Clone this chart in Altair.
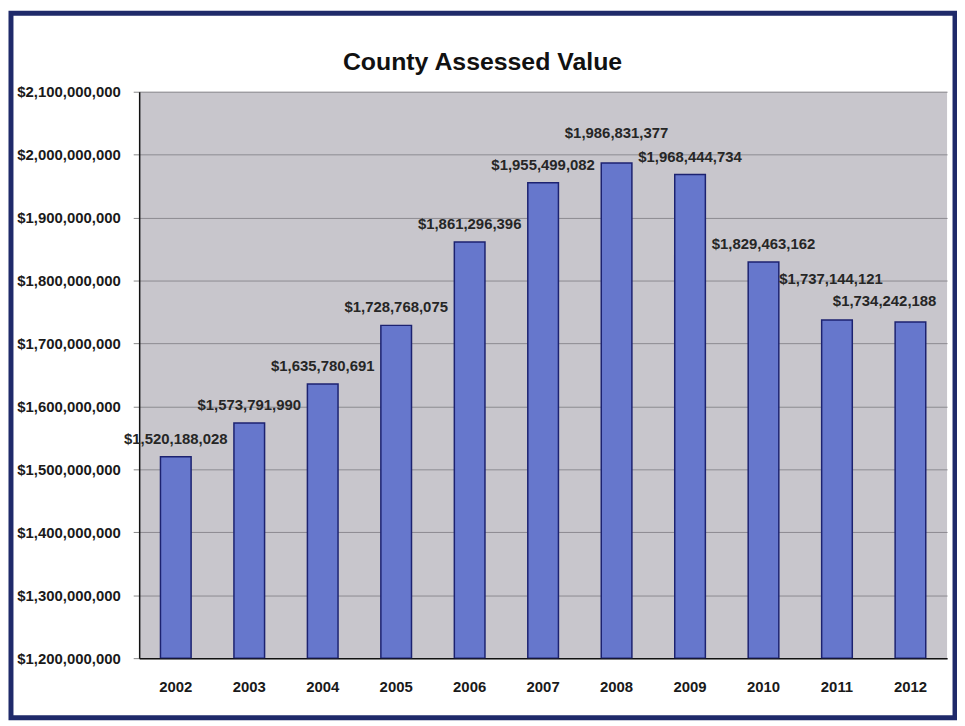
import altair as alt
import pandas as pd

years = ["2002", "2003", "2004", "2005", "2006", "2007", "2008", "2009", "2010", "2011", "2012"]
values = [1520188028, 1573791990, 1635780691, 1728768075, 1861296396, 1955499082,
          1986831377, 1968444734, 1829463162, 1737144121, 1734242188]
y_ticks = [1200000000, 1300000000, 1400000000, 1500000000, 1600000000, 1700000000,
           1800000000, 1900000000, 2000000000, 2100000000]
title_text = "County Assessed Value"

df = pd.DataFrame({"year": years, "value": values})

W, H = 813, 570
FONT = "Arial, Liberation Sans, Helvetica, sans-serif"

x_enc = alt.X("year:N", sort=years, title=None,
              scale=alt.Scale(paddingInner=0.583, paddingOuter=0.29),
              axis=alt.Axis(labelAngle=0, labelFont=FONT, labelFontSize=15, labelFontWeight="bold",
                            labelColor="#1a1a1a", ticks=False, labelPadding=22,
                            domainColor="#111111", domainWidth=1.5, grid=False))
y_enc = alt.Y("value:Q", title=None,
              scale=alt.Scale(domain=[1200000000, 2100000000], nice=False, zero=False),
              axis=alt.Axis(values=y_ticks, format="$,.0f", labelFont=FONT, labelFontSize=15,
                            labelFontWeight="bold", labelColor="#1a1a1a", tickSize=6,
                            tickColor="#888888", labelPadding=13, domainColor="#111111",
                            domainWidth=1.5, grid=True, gridColor="#8c8a90", gridWidth=1))

base = alt.Chart(df)

bars = base.mark_bar(color="#6677cc", stroke="#1c2270", strokeWidth=1.5, clip=True).encode(
    x=x_enc, y=y_enc, y2=alt.datum(1200000000))

label_style = dict(font=FONT, fontSize=15, fontWeight="bold", color="#262626",
                   align="center", baseline="alphabetic")
text_fmt = alt.Text("value:Q", format="$,.0f")

labels_normal = base.mark_text(dy=-13, **label_style).encode(
    x=alt.X("year:N", sort=years), y="value:Q", text=text_fmt
).transform_filter("datum.year != '2008' && datum.year != '2011' && datum.year != '2012'")
labels_2008 = base.mark_text(dy=-25, **label_style).encode(
    x=alt.X("year:N", sort=years), y="value:Q", text=text_fmt
).transform_filter("datum.year == '2008'")
labels_2011 = base.mark_text(dy=-36, dx=-6, **label_style).encode(
    x=alt.X("year:N", sort=years), y="value:Q", text=text_fmt
).transform_filter("datum.year == '2011'")
labels_2012 = base.mark_text(dy=-16, dx=-26, **label_style).encode(
    x=alt.X("year:N", sort=years), y="value:Q", text=text_fmt
).transform_filter("datum.year == '2012'")

frame = base.mark_rect(fill=None, stroke="#1f2a6a", strokeWidth=5).encode(
    x=alt.value(-129), x2=alt.value(W + 8), y=alt.value(-79), y2=alt.value(H + 60)
).transform_filter("datum.year == '2002'")

title = base.mark_text(font=FONT, fontSize=25, fontWeight="bold", color="#111111",
                       align="center", baseline="alphabetic").encode(
    x=alt.value(W / 2 - 61), y=alt.value(-22), text=alt.value(title_text)
).transform_filter("datum.year == '2002'")

chart = alt.layer(bars, labels_normal, labels_2008, labels_2011, labels_2012, frame, title).properties(
    width=W, height=H,
    autosize=alt.AutoSizeParams(type="none"),
    padding={"left": 132, "top": 82, "right": 10, "bottom": 64},
    background="white",
).configure_view(fill="#c8c6cc", stroke=None)

chart.save("out.html", embed_options={"renderer": "svg", "actions": False})
